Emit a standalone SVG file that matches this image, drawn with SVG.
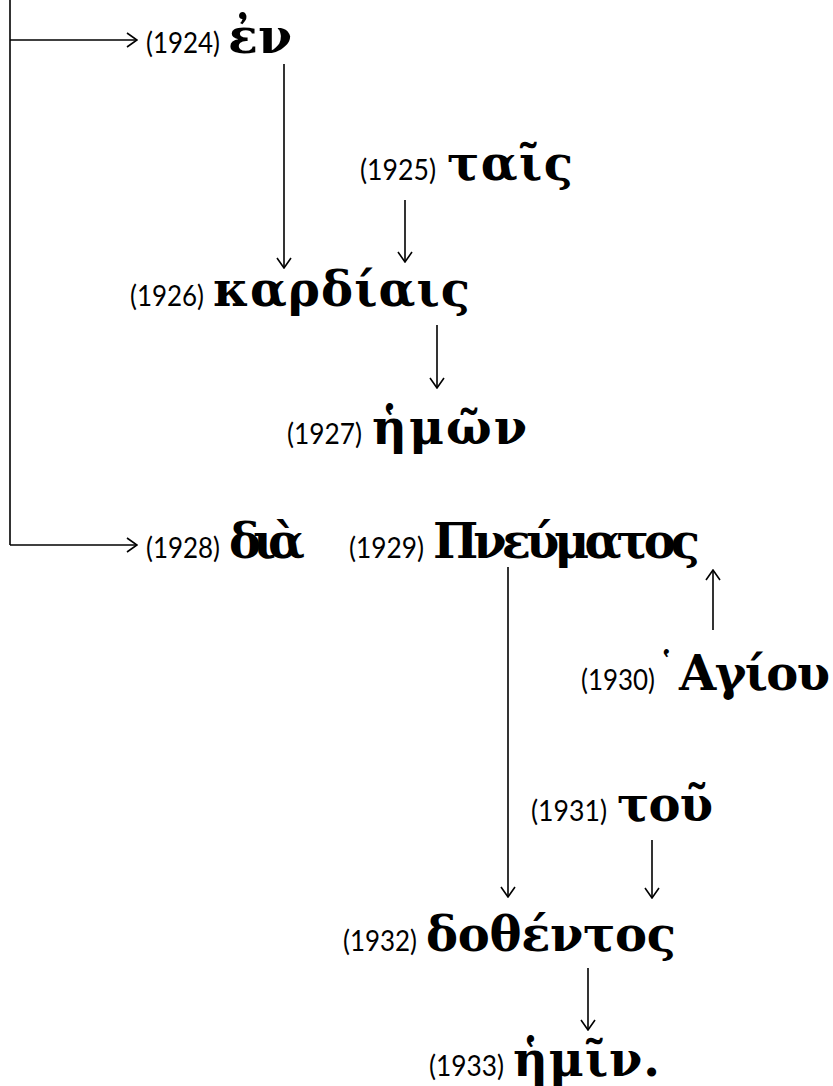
<svg xmlns="http://www.w3.org/2000/svg" width="833" height="1086" viewBox="0 0 833 1086">
<style>
.num{font-family:Lato,"Liberation Sans",sans-serif;font-size:28px;fill:#000}
.gr{font-family:"DejaVu Serif","Liberation Serif",serif;font-size:48px;font-weight:bold;fill:#000}
.br{font-family:"DejaVu Serif","Liberation Serif",serif;font-size:34px;font-weight:bold;fill:#000}
.ln{stroke:#000;stroke-width:1.6;fill:none}
</style>
<defs>
<marker id="ah" viewBox="0 0 12 16" refX="11" refY="8" markerWidth="12" markerHeight="16" markerUnits="userSpaceOnUse" orient="auto">
<path d="M1,1 L11,8 L1,15" stroke="#000" stroke-width="1.6" fill="none"/>
</marker>
</defs>
<rect width="833" height="1086" fill="#fff"/>
<g id="connectors">
<path class="ln" d="M10,0 V545"/>
<path class="ln" d="M10,40 H137" marker-end="url(#ah)"/>
<path class="ln" d="M10,545 H137" marker-end="url(#ah)"/>
<path class="ln" d="M284,64 V268" marker-end="url(#ah)"/>
<path class="ln" d="M405,200 V262" marker-end="url(#ah)"/>
<path class="ln" d="M437,325 V388" marker-end="url(#ah)"/>
<path class="ln" d="M508,567 V897" marker-end="url(#ah)"/>
<path class="ln" d="M713,630 V570" marker-end="url(#ah)"/>
<path class="ln" d="M652,840 V898" marker-end="url(#ah)"/>
<path class="ln" d="M588,968 V1030" marker-end="url(#ah)"/>
</g>
<g id="n1924"><text class="num" x="146" y="53" textLength="74" lengthAdjust="spacingAndGlyphs">(1924)</text><text class="gr" x="228" y="53" textLength="64" lengthAdjust="spacingAndGlyphs">ἐν</text></g>
<g id="n1925"><text class="num" x="360" y="180" textLength="76" lengthAdjust="spacingAndGlyphs">(1925)</text><text class="gr" x="447" y="180" textLength="126" lengthAdjust="spacing">ταῖς</text></g>
<g id="n1926"><text class="num" x="130" y="306" textLength="74" lengthAdjust="spacingAndGlyphs">(1926)</text><text class="gr" x="213" y="306" textLength="257" lengthAdjust="spacing">καρδίαις</text></g>
<g id="n1927"><text class="num" x="287" y="444" textLength="75" lengthAdjust="spacingAndGlyphs">(1927)</text><text class="gr" x="372" y="444" textLength="155" lengthAdjust="spacing">ἡμῶν</text></g>
<g id="n1928"><text class="num" x="146" y="558" textLength="74" lengthAdjust="spacingAndGlyphs">(1928)</text><text class="gr" x="229" y="558" textLength="76" lengthAdjust="spacing">διὰ</text></g>
<g id="n1929"><text class="num" x="349" y="558" textLength="75" lengthAdjust="spacingAndGlyphs">(1929)</text><text class="gr" x="433" y="558" textLength="267" lengthAdjust="spacing">Πνεύματος</text></g>
<g id="n1930"><text class="num" x="581" y="690" textLength="74" lengthAdjust="spacingAndGlyphs">(1930)</text><text class="br" x="658" y="677">῾</text><text class="gr" x="679" y="690" textLength="151" lengthAdjust="spacing">Αγίου</text></g>
<g id="n1931"><text class="num" x="531" y="821" textLength="76" lengthAdjust="spacingAndGlyphs">(1931)</text><text class="gr" x="617" y="821" textLength="96" lengthAdjust="spacing">τοῦ</text></g>
<g id="n1932"><text class="num" x="343" y="951" textLength="74" lengthAdjust="spacingAndGlyphs">(1932)</text><text class="gr" x="426" y="951" textLength="250" lengthAdjust="spacing">δοθέντος</text></g>
<g id="n1933"><text class="num" x="429" y="1076" textLength="75" lengthAdjust="spacingAndGlyphs">(1933)</text><text class="gr" x="513" y="1076" textLength="147" lengthAdjust="spacing">ἡμῖν.</text></g>
</svg>
